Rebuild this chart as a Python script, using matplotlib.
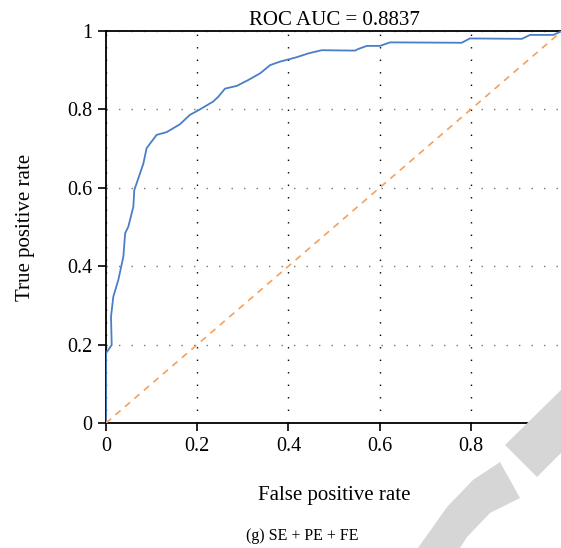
import matplotlib
matplotlib.use("Agg")
import matplotlib.pyplot as plt
from matplotlib.patches import Polygon

plt.rcParams['font.family'] = ['Liberation Serif', 'DejaVu Serif']

# ROC curve
fpr = [0.0, 0.0, 0.0125, 0.011, 0.016, 0.027, 0.038, 0.042, 0.049, 0.060, 0.062,
       0.082, 0.089, 0.111, 0.133, 0.162, 0.184, 0.206, 0.235, 0.246, 0.261,
       0.287, 0.312, 0.338, 0.360, 0.382, 0.418, 0.444, 0.473, 0.546, 0.553,
       0.572, 0.601, 0.623, 0.780, 0.798, 0.912, 0.930, 0.981, 1.0]
tpr = [0.0, 0.178, 0.199, 0.271, 0.322, 0.365, 0.424, 0.484, 0.501, 0.552, 0.594,
       0.662, 0.701, 0.735, 0.742, 0.762, 0.786, 0.800, 0.820, 0.832, 0.853,
       0.860, 0.875, 0.892, 0.913, 0.922, 0.933, 0.943, 0.951, 0.950, 0.954,
       0.962, 0.962, 0.971, 0.970, 0.981, 0.980, 0.990, 0.990, 1.0]
chance = [0, 1]
auc = 0.8837
ticks = [0, 0.2, 0.4, 0.6, 0.8, 1]
tick_labels = ["0", "0.2", "0.4", "0.6", "0.8", "1"]

W, H = 561, 548
fig = plt.figure(figsize=(W / 100, H / 100), dpi=100)

# light grey watermark pieces (figure pixels)
def px(pts):
    return [(x / W, 1 - y / H) for x, y in pts]

wm1 = px([(418, 548), (447, 507), (473, 480), (500, 462), (520, 498),
          (490, 513), (467, 537), (460, 548)])
wm2 = px([(505, 445), (561, 390), (561, 453), (537, 477)])
for pts in (wm1, wm2):
    fig.patches.append(Polygon(pts, closed=True, transform=fig.transFigure,
                               facecolor='#d6d6d6', edgecolor='none', zorder=0))

ax = fig.add_axes([106 / W, (H - 423) / H, 456 / W, 392 / H])
ax.set_facecolor('none')

ax.plot(fpr, tpr, color='#4a7ec6', lw=1.3, zorder=3)
ax.plot(chance, chance, color='#f5a05c', lw=1.2, ls=(0, (4, 3.5)), zorder=3)

ax.set_xlim(0, 1)
ax.set_ylim(0, 1)
ax.set_xticks(ticks)
ax.set_xticklabels(tick_labels)
ax.set_yticks(ticks)
ax.set_yticklabels(tick_labels)
ax.tick_params(direction='out', length=6, width=1.2, labelsize=14.5, pad=4)

ax.xaxis.grid(True, color='black', lw=1.0, ls=(0, (1, 8)))
ax.yaxis.grid(True, color='#777777', lw=1.0, ls=(0, (1, 8)))

for s in ['left', 'bottom', 'top']:
    ax.spines[s].set_linewidth(1.3)
ax.spines['right'].set_visible(False)

ax.set_title("ROC AUC = %.4f" % auc, fontsize=15, pad=4)
ax.set_xlabel("False positive rate", fontsize=15, labelpad=22)
ax.set_ylabel("True positive rate", fontsize=15, labelpad=23)

fig.text(302 / W, 1 - 540 / H, "(g) SE + PE + FE", fontsize=11.5,
         ha='center', va='baseline')

fig.savefig("out.png", dpi=100)
